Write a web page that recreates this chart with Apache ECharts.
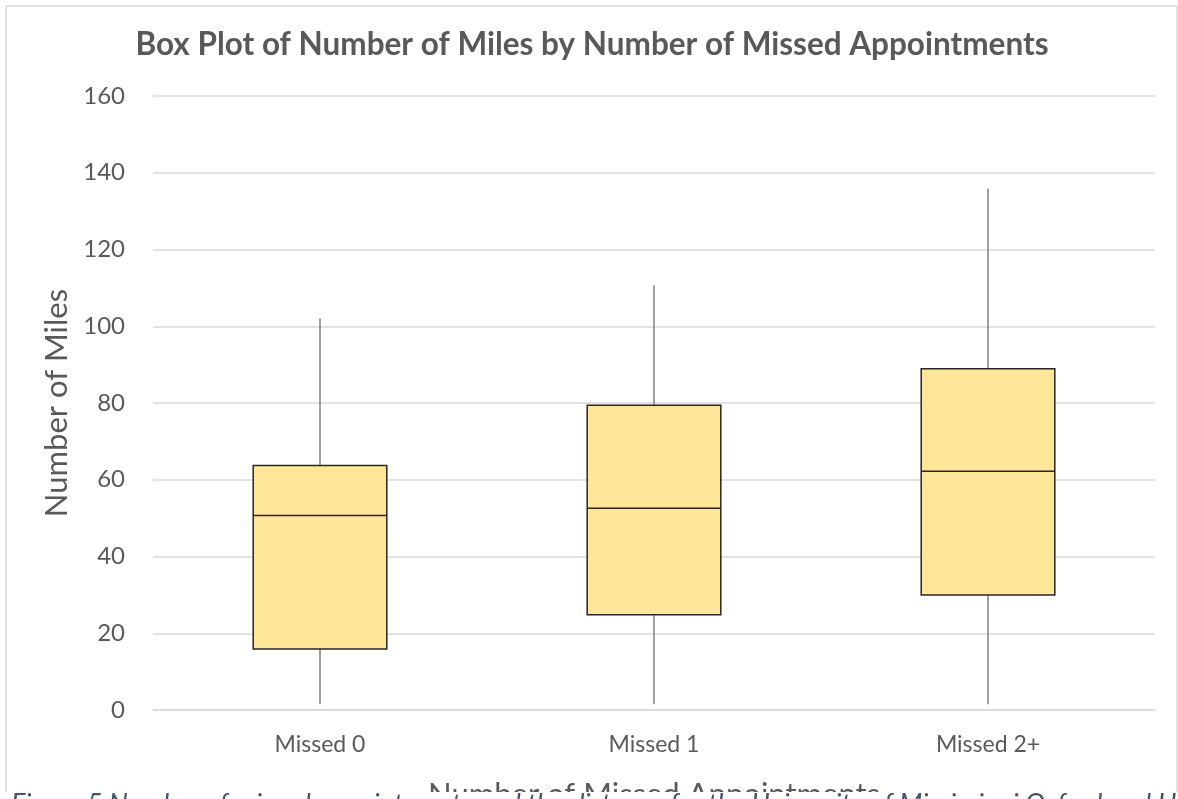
<!DOCTYPE html>
<html>
<head>
<meta charset="utf-8">
<script src="https://cdn.jsdelivr.net/npm/echarts@6/dist/echarts.min.js"></script>
<style>
html,body{margin:0;padding:0;background:#fff;}
#chart{width:1178px;height:799px;}
</style>
</head>
<body>
<div id="chart"></div>
<script>
const categories = ['Missed 0', 'Missed 1', 'Missed 2+'];
const mins = [1.5, 1.5, 1.5];
const q1s = [15.9, 24.8, 30.0];
const medians = [50.7, 52.6, 62.2];
const q3s = [63.7, 79.4, 88.9];
const maxs = [102.1, 110.7, 135.8];
const yTicks = [0, 20, 40, 60, 80, 100, 120, 140, 160];

const chartTitle = 'Box Plot of Number of Miles by Number of Missed Appointments';
const yTitle = 'Number of Miles';
const xTitle = 'Number of Missed Appointments';
const caption = 'Figure 5 Number of missed appointments and the distance for the University of Mississippi Oxford and Health';

const data = categories.map((c, i) => [i, mins[i], q1s[i], medians[i], q3s[i], maxs[i]]);

const FONT = 'Lato, "Open Sans", sans-serif';
const chart = echarts.init(document.getElementById('chart'), null, {renderer: 'canvas'});

function renderBox(params, api) {
  const x = api.value(0);
  const pMin = api.coord([x, api.value(1)]);
  const pQ1 = api.coord([x, api.value(2)]);
  const pMed = api.coord([x, api.value(3)]);
  const pQ3 = api.coord([x, api.value(4)]);
  const pMax = api.coord([x, api.value(5)]);
  const w = api.size([1, 0])[0] * 0.4;
  const cx = pMed[0];
  const whisker = {stroke: '#7f7f7f', lineWidth: 1.5};
  return {
    type: 'group',
    children: [
      {type: 'line', shape: {x1: cx, y1: pMin[1], x2: cx, y2: pQ1[1]}, style: whisker},
      {type: 'line', shape: {x1: cx, y1: pQ3[1], x2: cx, y2: pMax[1]}, style: whisker},
      {type: 'rect', shape: {x: cx - w / 2, y: pQ3[1], width: w, height: pQ1[1] - pQ3[1]},
        style: {fill: '#FFE699', stroke: '#262626', lineWidth: 1.5}},
      {type: 'line', shape: {x1: cx - w / 2, y1: pMed[1], x2: cx + w / 2, y2: pMed[1]},
        style: {stroke: '#262626', lineWidth: 1.5}}
    ]
  };
}

chart.setOption({
  animation: false,
  backgroundColor: '#ffffff',
  title: {
    text: chartTitle,
    left: 592,
    textAlign: 'center',
    top: 29,
    padding: 0,
    textStyle: {fontFamily: FONT, fontSize: 31.5, fontWeight: 'bold', color: '#595959'}
  },
  grid: {left: 153, right: 23, top: 96, bottom: 89, containLabel: false, outerBoundsMode: 'none'},
  xAxis: {
    type: 'category',
    data: categories,
    boundaryGap: true,
    name: xTitle,
    nameLocation: 'middle',
    nameGap: 69,
    nameTextStyle: {fontFamily: FONT, fontSize: 31, color: '#595959'},
    axisLine: {show: true, lineStyle: {color: '#d9d9d9', width: 1.5}},
    axisTick: {show: false},
    axisLabel: {fontFamily: FONT, fontSize: 23, color: '#595959', margin: 23}
  },
  yAxis: {
    type: 'value',
    min: yTicks[0],
    max: yTicks[yTicks.length - 1],
    interval: yTicks[1] - yTicks[0],
    name: yTitle,
    nameLocation: 'middle',
    nameRotate: 90,
    nameGap: 79,
    nameTextStyle: {fontFamily: FONT, fontSize: 31, color: '#595959'},
    axisLine: {show: false},
    axisTick: {show: false},
    axisLabel: {fontFamily: FONT, fontSize: 24, color: '#595959', margin: 28},
    splitLine: {show: true, lineStyle: {color: '#d9d9d9', width: 1.5}}
  },
  series: [{
    type: 'custom',
    renderItem: renderBox,
    encode: {x: 0, y: [1, 2, 3, 4, 5]},
    data: data,
    z: 5
  }],
  graphic: [
    {type: 'rect', z: -10, silent: true,
      shape: {x: 6, y: 6, width: 1171, height: 900},
      style: {fill: 'none', stroke: '#d9d9d9', lineWidth: 1.5}},
    {type: 'rect', zlevel: 1, z: 100, silent: true,
      shape: {x: 0, y: 792, width: 1178, height: 20},
      style: {fill: '#ffffff'}},
    {type: 'text', zlevel: 1, z: 101, silent: true, x: 11, y: 791,
      style: {text: caption, fontFamily: FONT, fontSize: 27, fontStyle: 'italic', fill: '#44546A',
        verticalAlign: 'top', align: 'left'}}
  ]
});
</script>
</body>
</html>
